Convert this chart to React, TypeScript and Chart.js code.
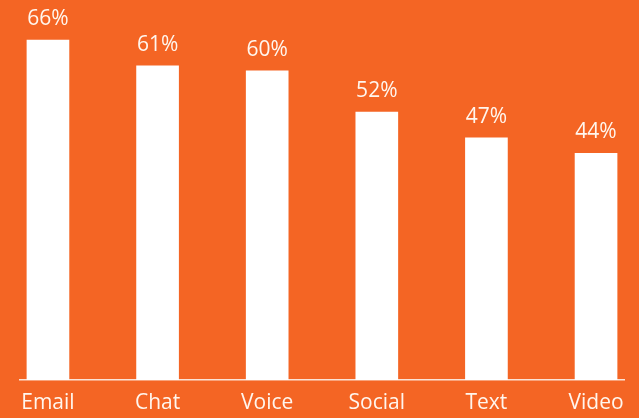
import React, { useEffect, useRef } from "react";
import { Chart, registerables } from "chart.js";

Chart.register(...registerables);

const categories = ["Email", "Chat", "Voice", "Social", "Text", "Video"];
const values = [66, 61, 60, 52, 47, 44];

const BG = "#F46524";
const TEXT = "#FFF6EE";
const FONT = "'Open Sans', Lato, sans-serif";

const valueLabels = {
  id: "valueLabels",
  afterDatasetsDraw(chart: any) {
    const ctx = chart.ctx;
    const meta = chart.getDatasetMeta(0);
    ctx.save();
    ctx.fillStyle = TEXT;
    ctx.font = `21px ${FONT}`;
    ctx.textAlign = "center";
    ctx.textBaseline = "alphabetic";
    meta.data.forEach((bar: any, i: number) => {
      ctx.fillText(`${values[i]}%`, bar.x, bar.y - 15);
    });
    ctx.restore();
  },
};

export default function App() {
  const ref = useRef<HTMLCanvasElement | null>(null);
  useEffect(() => {
    document.body.style.margin = "0";
    const chart = new Chart(ref.current as HTMLCanvasElement, {
      type: "bar",
      data: {
        datasets: [
          {
            data: values.map((v, i) => ({ x: i, y: v })),
            backgroundColor: "#FFFFFF",
            borderWidth: 0,
            barThickness: 42,
          },
        ],
      },
      options: {
        animation: false,
        responsive: false,
        maintainAspectRatio: false,
        layout: { padding: { left: 20, right: 15, top: 19.4, bottom: 0 } },
        plugins: { legend: { display: false }, tooltip: { enabled: false } },
        scales: {
          x: {
            type: "linear",
            offset: false,
            min: -0.255,
            max: 5.255,
            afterBuildTicks: (axis: any) => {
              axis.ticks = categories.map((_, i) => ({ value: i }));
            },
            afterFit: (axis: any) => {
              axis.height = 38;
            },
            grid: { display: false, drawTicks: false },
            border: { display: true, color: "#FBE3D6", width: 1.5 },
            ticks: {
              color: TEXT,
              font: { size: 21, family: FONT },
              padding: 10,
              autoSkip: false,
              maxRotation: 0,
              callback: (v: any) => categories[v as number] ?? "",
            },
          },
          y: {
            display: false,
            min: 0,
            max: 70,
          },
        },
      },
      plugins: [valueLabels],
    } as any);
    return () => chart.destroy();
  }, []);
  return (
    <div style={{ position: "fixed", left: 0, top: 0, width: 639, height: 418, background: BG }}>
      <canvas ref={ref} width={639} height={418} style={{ display: "block" }} />
    </div>
  );
}
